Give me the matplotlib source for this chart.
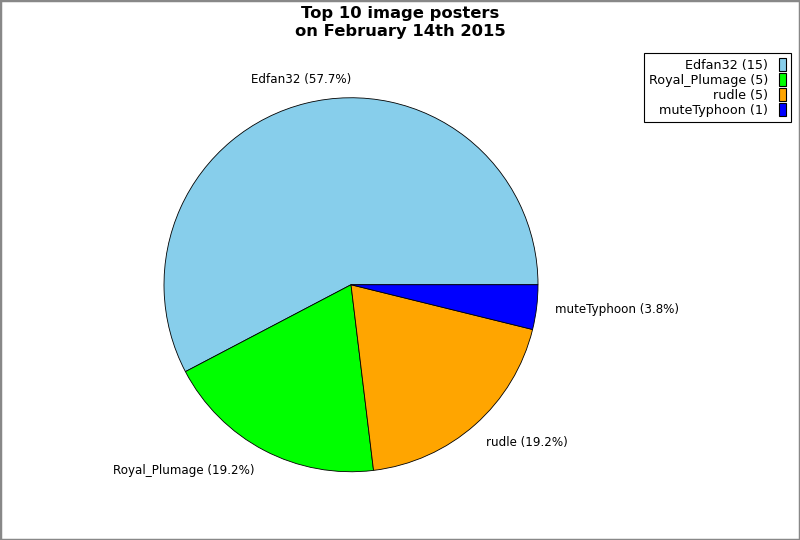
import matplotlib
matplotlib.use("Agg")
import matplotlib.pyplot as plt
from matplotlib.patches import Rectangle

names = ["Edfan32", "Royal_Plumage", "rudle", "muteTyphoon"]
counts = [15, 5, 5, 1]
colors = ["#87ceeb", "#00ff00", "#ffa500", "#0000ff"]
title = "Top 10 image posters\non February 14th 2015"

total = sum(counts)
pie_labels = [f"{n} ({c / total * 100:.1f}%)" for n, c in zip(names, counts)]
legend_labels = [f"{n} ({c})" for n, c in zip(names, counts)]

fig = plt.figure(figsize=(8, 5.4), dpi=100)
ax = fig.add_axes([0.2050, 0.1264, 0.4675, 0.6926])
wedges, texts = ax.pie(counts, colors=colors, startangle=0, counterclock=True,
                       labels=pie_labels, labeldistance=1.1,
                       wedgeprops=dict(edgecolor="black", linewidth=0.6),
                       textprops=dict(fontsize=8.6))
ax.set_xlim(-1, 1)
ax.set_ylim(-1, 1)
ax.set_aspect("equal")

# label placement (outside the pie)
label_pos = [(-0.267, 1.10), (-0.895, -0.995), (0.94, -0.845), (1.42, -0.134)]
for t, p in zip(texts, label_pos):
    t.set_position(p)
    t.set_ha("center")
    t.set_va("center")

fig.text(0.5, 0.988, title, ha="center", va="top", fontsize=11.8,
         fontweight="bold", linespacing=1.2)

handles = [Rectangle((0, 0), 1, 1, facecolor=c, edgecolor="black", linewidth=0.8)
           for c in colors]
leg = fig.legend(handles, legend_labels, loc="upper right",
                 bbox_to_anchor=(791 / 800, 1 - 53 / 540), markerfirst=False,
                 fontsize=9.2, handlelength=0.55, handleheight=1.15, handletextpad=0.85,
                 labelspacing=0.1, borderpad=0.4, fancybox=False, framealpha=1,
                 edgecolor="black", borderaxespad=0)
leg.get_frame().set_linewidth(0.8)

fig.patches.append(Rectangle((0, 0), 1, 1, transform=fig.transFigure,
                             fill=False, edgecolor="#888888", linewidth=2.5))

fig.savefig("out.png", dpi=100)
